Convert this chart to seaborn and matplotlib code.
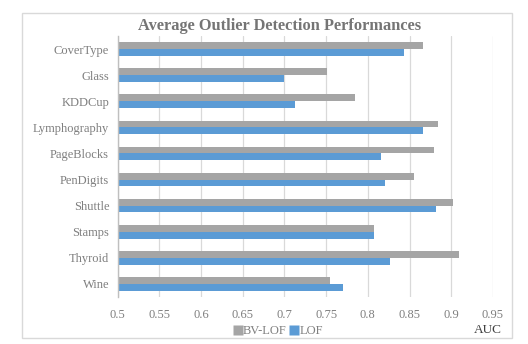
import matplotlib
matplotlib.use("Agg")
import matplotlib.pyplot as plt
import seaborn as sns
import pandas as pd
from matplotlib.patches import Rectangle
from matplotlib.lines import Line2D

datasets = ["CoverType", "Glass", "KDDCup", "Lymphography", "PageBlocks",
            "PenDigits", "Shuttle", "Stamps", "Thyroid", "Wine"]
bv_lof = [0.866, 0.751, 0.785, 0.884, 0.879, 0.855, 0.902, 0.807, 0.909, 0.755]
lof = [0.843, 0.699, 0.713, 0.866, 0.816, 0.820, 0.882, 0.807, 0.826, 0.770]
methods = ["BV-LOF", "LOF"]
xticks = [0.5, 0.55, 0.6, 0.65, 0.7, 0.75, 0.8, 0.85, 0.9, 0.95]
tick_labels = ["0.5", "0.55", "0.6", "0.65", "0.7", "0.75", "0.8", "0.85", "0.9", "0.95"]

df = pd.DataFrame({
    "Dataset": datasets * 2,
    "AUC": bv_lof + lof,
    "Method": [methods[0]] * len(datasets) + [methods[1]] * len(datasets),
})

sns.set_theme(style="white")
plt.rcParams["font.family"] = ["Liberation Serif", "DejaVu Serif"]

colors = {"BV-LOF": "#A5A5A5", "LOF": "#5B9BD5"}
text_gray = "#7F7F7F"

fig = plt.figure(figsize=(5.28, 3.44), dpi=100)
fig.patch.set_facecolor("white")
ax = fig.add_axes([117.5 / 528, 1 - 297 / 344, (493 - 117.5) / 528, (297 - 36) / 344])

sns.barplot(data=df, x="AUC", y="Dataset", hue="Method", hue_order=methods,
            order=datasets, palette=colors, orient="h", width=0.52, gap=0,
            saturation=1, edgecolor="none", legend=False, ax=ax)

ax.set_xlim(0.5, 0.95)
ax.set_ylim(9.5, -0.5)
ax.set_xticks(xticks)
ax.set_xticklabels(tick_labels)
ax.grid(axis="x", color="#D9D9D9", linewidth=0.9)
ax.set_axisbelow(True)
for s in ["top", "right", "bottom"]:
    ax.spines[s].set_visible(False)
ax.spines["left"].set_color("#BFBFBF")
ax.spines["left"].set_linewidth(1.0)
ax.tick_params(axis="both", length=0, labelsize=9, labelcolor=text_gray, pad=6)
ax.tick_params(axis="x", pad=9)
ax.set_xlabel("")
ax.set_ylabel("")

fig.text(280 / 528, 1 - 26 / 344, "Average Outlier Detection Performances",
         ha="center", va="center", fontsize=11.8, fontweight="bold", color="#757575")
fig.text(488 / 528, 1 - 330 / 344, "AUC", ha="center", va="center",
         fontsize=9.5, color="#404040")

handles = [Line2D([], [], marker="s", linestyle="none", markersize=7.5,
                  markerfacecolor=colors[m], markeredgecolor="none") for m in methods]
fig.legend(handles, methods, loc="center", bbox_to_anchor=(278 / 528, 1 - 331 / 344),
           ncol=2, frameon=False, fontsize=9, labelcolor=text_gray,
           handletextpad=0.0, columnspacing=0.2, handlelength=0.8)

fig.add_artist(Rectangle((22 / 528, 1 - 338 / 344), 490 / 528, 325 / 344,
                         transform=fig.transFigure, fill=False,
                         edgecolor="#D9D9D9", linewidth=1.0))

fig.savefig("out.png", dpi=100, facecolor="white")
